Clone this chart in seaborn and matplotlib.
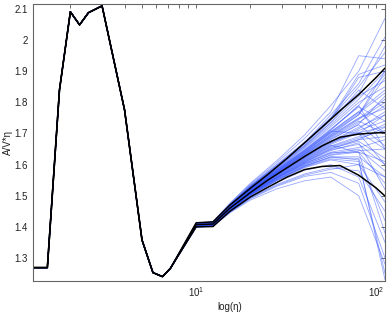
import matplotlib
matplotlib.use("Agg")
import matplotlib.pyplot as plt
import numpy as np
import pandas as pd
import seaborn as sns
from matplotlib.ticker import FixedLocator, FuncFormatter, LogLocator, NullFormatter

# ---------------- data ----------------
eta_head = [1.24, 1.49, 1.74, 2.0, 2.25, 2.52, 3.0, 4.0, 5.0, 5.75, 6.5, 7.2]
val_head = [1.269, 1.269, 1.84, 2.091, 2.049, 2.088, 2.11, 1.776, 1.358, 1.253, 1.24, 1.267]

eta_tail = [10, 12.4, 15.4, 20, 28, 40, 56, 80, 112]
runs = [
    [1.404, 1.409, 1.458, 1.512, 1.566, 1.618, 1.665, 1.702, 1.722],
    [1.407, 1.412, 1.465, 1.521, 1.580, 1.640, 1.705, 1.770, 1.840],
    [1.402, 1.407, 1.455, 1.505, 1.555, 1.600, 1.630, 1.640, 1.610],
    [1.409, 1.414, 1.470, 1.530, 1.595, 1.668, 1.750, 1.850, 1.960],
    [1.401, 1.405, 1.452, 1.500, 1.548, 1.590, 1.615, 1.600, 1.480],
    [1.406, 1.411, 1.462, 1.518, 1.575, 1.632, 1.690, 1.745, 1.800],
    [1.403, 1.408, 1.457, 1.510, 1.562, 1.612, 1.655, 1.680, 1.690],
    [1.408, 1.413, 1.468, 1.526, 1.588, 1.655, 1.728, 1.810, 1.900],
    [1.405, 1.410, 1.460, 1.514, 1.570, 1.625, 1.675, 1.720, 1.760],
    [1.400, 1.404, 1.450, 1.497, 1.543, 1.582, 1.600, 1.560, 1.350],
    [1.412, 1.417, 1.476, 1.540, 1.612, 1.695, 1.790, 1.900, 2.070],
    [1.404, 1.409, 1.459, 1.513, 1.568, 1.622, 1.670, 1.705, 1.650],
    [1.406, 1.411, 1.463, 1.520, 1.578, 1.638, 1.700, 1.760, 1.880],
    [1.402, 1.407, 1.454, 1.503, 1.552, 1.596, 1.625, 1.625, 1.560],
    [1.407, 1.412, 1.466, 1.523, 1.584, 1.646, 1.712, 1.790, 1.890],
    [1.403, 1.408, 1.456, 1.508, 1.560, 1.608, 1.648, 1.665, 1.600],
    [1.405, 1.410, 1.461, 1.516, 1.573, 1.630, 1.685, 1.735, 1.790],
    [1.401, 1.406, 1.453, 1.502, 1.550, 1.592, 1.618, 1.610, 1.250],
    [1.409, 1.414, 1.469, 1.528, 1.592, 1.662, 1.742, 1.880, 1.900],
    [1.404, 1.409, 1.458, 1.511, 1.565, 1.615, 1.660, 1.690, 1.730],
    [1.406, 1.411, 1.464, 1.521, 1.580, 1.642, 1.705, 1.770, 1.700],
    [1.402, 1.407, 1.455, 1.506, 1.557, 1.604, 1.640, 1.655, 1.680],
    [1.408, 1.413, 1.467, 1.525, 1.586, 1.652, 1.722, 1.800, 1.850],
    [1.403, 1.408, 1.457, 1.509, 1.561, 1.610, 1.652, 1.675, 1.620],
    [1.405, 1.410, 1.460, 1.515, 1.571, 1.627, 1.680, 1.730, 1.820],
    [1.399, 1.403, 1.447, 1.490, 1.530, 1.562, 1.575, 1.540, 1.300],
    [1.407, 1.412, 1.465, 1.522, 1.582, 1.644, 1.708, 1.700, 1.760],
    [1.404, 1.409, 1.459, 1.512, 1.567, 1.620, 1.668, 1.710, 1.740],
    [1.406, 1.411, 1.462, 1.519, 1.577, 1.636, 1.695, 1.750, 1.780],
    [1.402, 1.406, 1.454, 1.504, 1.553, 1.598, 1.632, 1.645, 1.650],
    [1.410, 1.415, 1.472, 1.534, 1.600, 1.672, 1.750, 1.830, 1.980],
    [1.403, 1.408, 1.456, 1.507, 1.558, 1.606, 1.645, 1.670, 1.520],
    [1.405, 1.410, 1.461, 1.517, 1.574, 1.632, 1.688, 1.740, 1.700],
    [1.401, 1.406, 1.452, 1.501, 1.549, 1.594, 1.622, 1.620, 1.420],
    [1.409, 1.414, 1.470, 1.530, 1.595, 1.666, 1.748, 1.890, 1.920],
    [1.404, 1.409, 1.458, 1.513, 1.569, 1.623, 1.673, 1.715, 1.770],
    [1.406, 1.411, 1.463, 1.520, 1.579, 1.640, 1.702, 1.765, 1.830],
    [1.402, 1.407, 1.455, 1.505, 1.556, 1.602, 1.636, 1.650, 1.580],
    [1.407, 1.412, 1.466, 1.524, 1.585, 1.648, 1.715, 1.785, 1.740],
    [1.403, 1.408, 1.457, 1.510, 1.563, 1.613, 1.658, 1.685, 1.710],
    [1.405, 1.410, 1.460, 1.515, 1.572, 1.628, 1.682, 1.728, 1.660],
    [1.401, 1.405, 1.453, 1.502, 1.551, 1.595, 1.625, 1.615, 1.230],
    [1.408, 1.414, 1.468, 1.527, 1.590, 1.658, 1.735, 1.820, 1.870],
    [1.404, 1.409, 1.459, 1.514, 1.570, 1.624, 1.676, 1.700, 1.600],
    [1.406, 1.411, 1.462, 1.518, 1.576, 1.634, 1.692, 1.748, 1.810],
    [1.403, 1.407, 1.456, 1.506, 1.557, 1.603, 1.638, 1.640, 1.540],
    [1.405, 1.410, 1.461, 1.516, 1.575, 1.635, 1.696, 1.760, 1.900],
    [1.402, 1.407, 1.455, 1.507, 1.559, 1.608, 1.650, 1.680, 1.720],
    [1.398, 1.402, 1.445, 1.486, 1.522, 1.548, 1.560, 1.500, 1.280],
    [1.411, 1.416, 1.474, 1.537, 1.606, 1.684, 1.770, 1.950, 1.940],
    [1.400, 1.404, 1.449, 1.494, 1.536, 1.570, 1.590, 1.580, 1.450],
    [1.410, 1.415, 1.471, 1.532, 1.598, 1.670, 1.760, 1.860, 2.010],
    [1.399, 1.403, 1.448, 1.492, 1.533, 1.566, 1.585, 1.600, 1.560],
    [1.409, 1.414, 1.469, 1.529, 1.593, 1.660, 1.735, 1.840, 1.780],
    [1.404, 1.409, 1.458, 1.512, 1.566, 1.617, 1.662, 1.640, 1.380],
    [1.407, 1.412, 1.465, 1.523, 1.583, 1.645, 1.710, 1.790, 1.650],
]

eta_stat = [10, 12.4, 15.4, 20, 25, 32, 40, 50, 63, 80, 100, 112]
mean_tail = [1.407, 1.409, 1.460, 1.510, 1.550, 1.590, 1.626, 1.660, 1.688, 1.698, 1.702, 1.703]
upper_tail = [1.413, 1.416, 1.470, 1.524, 1.568, 1.620, 1.670, 1.720, 1.773, 1.825, 1.880, 1.910]
lower_tail = [1.400, 1.401, 1.450, 1.496, 1.527, 1.560, 1.584, 1.594, 1.597, 1.566, 1.525, 1.499]

y_ticks = [1.3, 1.4, 1.5, 1.6, 1.7, 1.8, 1.9, 2.0, 2.1]

# ---------------- build tables ----------------
rows = []
for i, r in enumerate(runs):
    for e, v in zip(eta_head + eta_tail, val_head + r):
        rows.append((i, e, v))
df_runs = pd.DataFrame(rows, columns=["run", "eta", "value"])

stat_rows = []
for name, tail in (("mean", mean_tail), ("upper", upper_tail), ("lower", lower_tail)):
    for e, v in zip(eta_head + eta_stat, val_head + tail):
        stat_rows.append((name, e, v))
df_stat = pd.DataFrame(stat_rows, columns=["stat", "eta", "value"])

# ---------------- plot ----------------
sns.set_style("white")
plt.rcParams["font.family"] = ["Liberation Sans", "DejaVu Sans"]
plt.rcParams["mathtext.fontset"] = "custom"
plt.rcParams["mathtext.rm"] = "Liberation Sans"

fig = plt.figure(figsize=(3.88, 3.12), dpi=100)
ax = fig.add_axes([33 / 388, 1 - 281 / 312, 352 / 388, 277 / 312])

sns.lineplot(data=df_runs, x="eta", y="value", units="run", estimator=None,
             color="#3050ff", alpha=0.5, lw=0.6, ax=ax, legend=False, sort=True)
for name in ("upper", "mean", "lower"):
    sns.lineplot(data=df_stat[df_stat["stat"] == name], x="eta", y="value",
                 color="black", lw=1.1, ax=ax, legend=False, sort=True)

ax.set_xscale("log")
ax.set_xlim(1.24, 112)
ax.set_ylim(1.226, 2.116)

ax.yaxis.set_major_locator(FixedLocator(y_ticks))
ax.yaxis.set_major_formatter(FuncFormatter(lambda v, p: "%g" % round(v, 2)))
ax.xaxis.set_major_locator(LogLocator(base=10, numticks=10))
ax.xaxis.set_minor_locator(LogLocator(base=10, subs=np.arange(2, 10), numticks=20))
ax.xaxis.set_minor_formatter(NullFormatter())

ax.tick_params(which="both", direction="in", top=True, right=True,
               length=3, width=0.6, color="#555555", labelsize=7, labelcolor="#222222", pad=3)
ax.tick_params(axis="y", pad=4)
for s in ax.spines.values():
    s.set_color("#666666")
    s.set_linewidth(0.8)

ax.set_xlabel("log(η)", fontsize=7, color="#222222")
ax.set_ylabel("A/V*η", fontsize=7, color="#222222")
ax.xaxis.set_label_coords(0.558, -0.075)
ax.yaxis.set_label_coords(-0.058, 0.5)

fig.savefig("out.png", dpi=100)
